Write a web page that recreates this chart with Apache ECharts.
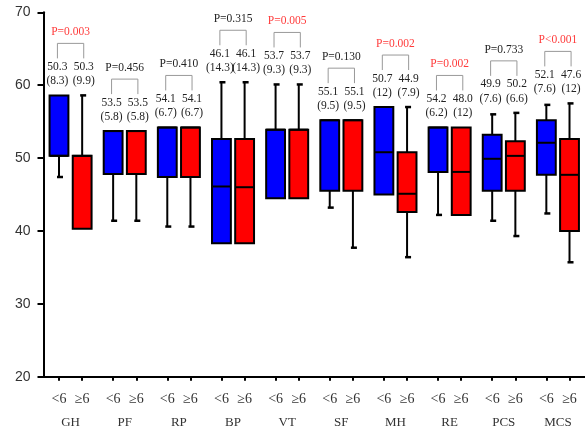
<!DOCTYPE html>
<html>
<head>
<meta charset="utf-8">
<script src="https://cdn.jsdelivr.net/npm/echarts@6/dist/echarts.min.js"></script>
<style>
html,body{margin:0;padding:0;background:#fff;}
#chart{width:585px;height:434px;}
</style>
</head>
<body>
<div id="chart"></div>
<script>
// ---- data ----
const categories = ['GH','PF','RP','BP','VT','SF','MH','RE','PCS','MCS'];
const groupLabels = ['<6', '\u22656'];
// [min, Q1, median, Q3, max]
const lowBoxes = [
  [47.4, 50.3, 50.3, 58.6, 58.6],
  [41.4, 47.8, 53.7, 53.7, 53.7],
  [40.6, 47.4, 54.2, 54.2, 54.2],
  [38.3, 38.3, 46.1, 52.6, 60.4],
  [44.5, 44.5, 53.9, 53.9, 60.1],
  [43.2, 45.5, 55.2, 55.2, 55.2],
  [45.0, 45.0, 50.8, 57.0, 57.0],
  [42.2, 48.1, 54.2, 54.2, 54.2],
  [41.4, 45.5, 49.9, 53.2, 56.0],
  [42.4, 47.7, 52.1, 55.2, 57.3]
];
const highBoxes = [
  [40.3, 40.3, 50.3, 50.3, 58.6],
  [41.4, 47.8, 53.7, 53.7, 53.7],
  [40.6, 47.4, 54.2, 54.2, 54.2],
  [38.3, 38.3, 46.0, 52.6, 60.4],
  [44.5, 44.5, 53.9, 53.9, 60.1],
  [37.7, 45.5, 55.2, 55.2, 55.2],
  [36.4, 42.6, 45.1, 50.8, 57.0],
  [42.2, 42.2, 48.1, 54.2, 54.2],
  [39.3, 45.5, 50.3, 52.3, 56.2],
  [35.7, 40.0, 47.7, 52.6, 57.5]
];
const lowMean  = ['50.3','53.5','54.1','46.1','53.7','55.1','50.7','54.2','49.9','52.1'];
const lowSD    = ['(8.3)','(5.8)','(6.7)','(14.3)','(9.3)','(9.5)','(12)','(6.2)','(7.6)','(7.6)'];
const highMean = ['50.3','53.5','54.1','46.1','53.7','55.1','44.9','48.0','50.2','47.6'];
const highSD   = ['(9.9)','(5.8)','(6.7)','(14.3)','(9.3)','(9.5)','(7.9)','(12)','(6.6)','(12)'];
const pValues  = ['P=0.003','P=0.456','P=0.410','P=0.315','P=0.005','P=0.130','P=0.002','P=0.002','P=0.733','P<0.001'];
const significant = [true,false,false,false,true,false,true,true,false,true];
const yTicks = [20, 30, 40, 50, 60, 70];

// ---- styling / layout ----
const OFF = 0.214;   // subgroup box offset (fraction of band)
const AOFF = 0.243;  // annotation offset (fraction of band)
const BOXW = 0.348;  // box width (fraction of band)
const SERIF = '"Liberation Serif", "Times New Roman", serif';
const SANS = '"Liberation Sans", Arial, sans-serif';

function boxRender(side, fill) {
  return function (params, api) {
    const cat = api.value(0);
    const v = [api.value(1), api.value(2), api.value(3), api.value(4), api.value(5)];
    const band = api.size([1, 0])[0];
    const cx = api.coord([cat, v[0]])[0] + side * OFF * band;
    const w = BOXW * band;
    const y = v.map(d => api.coord([cat, d])[1]);
    const children = [];
    const lineStyle = {stroke: '#000', lineWidth: 2};
    if (v[4] > v[3]) {
      children.push({type: 'line', shape: {x1: cx, y1: y[3], x2: cx, y2: y[4]}, style: lineStyle});
      children.push({type: 'line', shape: {x1: cx - 2, y1: y[4], x2: cx + 4, y2: y[4]}, style: {stroke: '#000', lineWidth: 2.5}});
    }
    if (v[0] < v[1]) {
      children.push({type: 'line', shape: {x1: cx, y1: y[1], x2: cx, y2: y[0]}, style: lineStyle});
      children.push({type: 'line', shape: {x1: cx - 2, y1: y[0], x2: cx + 4, y2: y[0]}, style: {stroke: '#000', lineWidth: 2.5}});
    }
    children.push({type: 'rect', shape: {x: cx - w / 2, y: y[3], width: w, height: y[1] - y[3]},
      style: {fill: fill, stroke: '#000', lineWidth: 2}});
    children.push({type: 'line', shape: {x1: cx - w / 2, y1: y[2], x2: cx + w / 2, y2: y[2]}, style: lineStyle});
    return {type: 'group', children: children};
  };
}

function annotRender(params, api) {
  const i = params.dataIndex;
  const cat = api.value(0);
  const top = api.value(1);
  const band = api.size([1, 0])[0];
  const p = api.coord([cat, top]);
  const xl = p[0] - AOFF * band, xr = p[0] + AOFF * band;
  const y0 = p[1];
  const txt = (x, y, s, color) => ({type: 'text', x: x, y: y,
    style: {text: s, fill: color, font: '11.5px ' + SERIF, align: 'center', verticalAlign: 'middle'}});
  return {type: 'group', children: [
    txt(xl, y0 - 14, lowSD[i], '#222'),
    txt(xr, y0 - 14, highSD[i], '#222'),
    txt(xl, y0 - 28.5, lowMean[i], '#222'),
    txt(xr, y0 - 28.5, highMean[i], '#222'),
    {type: 'polyline', shape: {points: [[xl, y0 - 37], [xl, y0 - 52], [xr, y0 - 52], [xr, y0 - 37]]}, style: {fill: null, stroke: '#999', lineWidth: 1}},
    txt(p[0], y0 - 63, pValues[i], significant[i] ? '#ff3b3b' : '#222')
  ]};
}

const subTickValues = [];
categories.forEach((c, i) => { subTickValues.push(i + 0.5 - OFF, i + 0.5 + OFF); });

const chart = echarts.init(document.getElementById('chart'), null, {renderer: 'canvas'});
chart.setOption({
  animation: false,
  backgroundColor: '#fff',
  grid: {left: 43.5, right: -5, top: 12.3, bottom: 57.3, containLabel: false},
  xAxis: [
    {
      type: 'category', data: categories, position: 'bottom',
      axisLine: {show: true, lineStyle: {color: '#000', width: 2}},
      axisTick: {show: false},
      axisLabel: {margin: 39, color: '#333', fontFamily: SERIF, fontSize: 13},
      splitLine: {show: false}
    },
    {
      type: 'value', min: 0, max: categories.length, position: 'bottom',
      axisLine: {show: false},
      axisTick: {show: true, length: 4, customValues: subTickValues, lineStyle: {color: '#000', width: 2}},
      axisLabel: {margin: 16, color: '#333', fontFamily: SERIF, fontSize: 14, customValues: subTickValues,
        formatter: v => (v - Math.floor(v) < 0.5 ? groupLabels[0] : groupLabels[1])},
      splitLine: {show: false}
    }
  ],
  yAxis: {
    type: 'value', min: yTicks[0], max: yTicks[yTicks.length - 1], interval: 10,
    axisLine: {show: true, lineStyle: {color: '#000', width: 2}},
    axisTick: {show: true, length: 6, lineStyle: {color: '#000', width: 2}},
    axisLabel: {margin: 13, color: '#333', fontFamily: SANS, fontSize: 14},
    splitLine: {show: false}
  },
  series: [
    {
      type: 'custom', name: '<6', xAxisIndex: 0,
      renderItem: boxRender(-1, '#0000ff'),
      encode: {x: 0, y: [1, 2, 3, 4, 5]},
      data: lowBoxes.map((b, i) => [i].concat(b))
    },
    {
      type: 'custom', name: '\u22656', xAxisIndex: 0,
      renderItem: boxRender(1, '#ff0000'),
      encode: {x: 0, y: [1, 2, 3, 4, 5]},
      data: highBoxes.map((b, i) => [i].concat(b))
    },
    {
      type: 'custom', name: 'annot', xAxisIndex: 0,
      renderItem: annotRender,
      encode: {x: 0, y: 1},
      data: categories.map((c, i) => [i, Math.max(lowBoxes[i][4], highBoxes[i][4])])
    }
  ]
});
</script>
</body>
</html>
